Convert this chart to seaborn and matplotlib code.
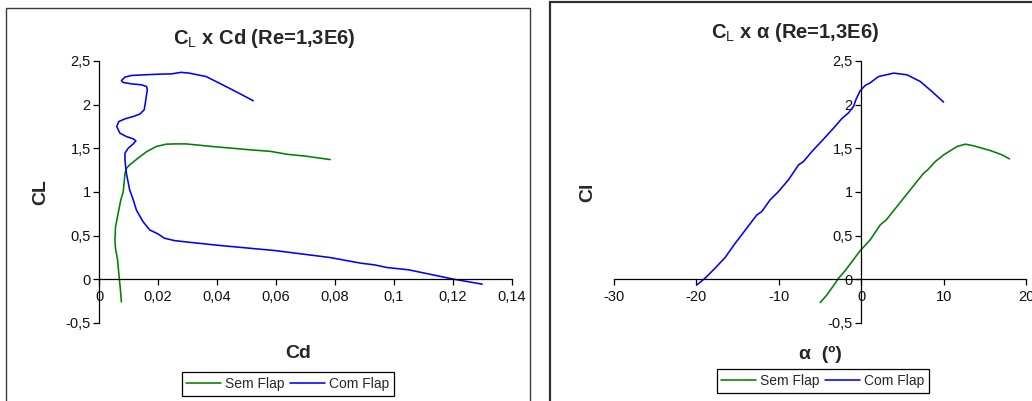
import numpy as np
import pandas as pd
import matplotlib
matplotlib.use("Agg")
import matplotlib.pyplot as plt
from matplotlib.lines import Line2D
from matplotlib.patches import Rectangle
from matplotlib.ticker import FuncFormatter, MultipleLocator
import seaborn as sns

# ---- polar data: CL vs Cd ----
sem_cd = [0.0076, 0.0072, 0.0067, 0.0063, 0.0056, 0.0054, 0.0056, 0.0063, 0.0067,
          0.0074, 0.0082, 0.0085, 0.0088, 0.0093, 0.0104, 0.0132, 0.0161, 0.0194,
          0.0228, 0.0260, 0.0295, 0.0385, 0.0520, 0.0580, 0.0640, 0.0700, 0.0784]
sem_cl_polar = [-0.26, -0.10, 0.07, 0.22, 0.35, 0.45, 0.60, 0.72, 0.79,
                0.91, 1.00, 1.10, 1.21, 1.27, 1.31, 1.386, 1.46, 1.52,
                1.547, 1.55, 1.55, 1.52, 1.48, 1.465, 1.43, 1.41, 1.37]

com_cd = [0.1299, 0.1202, 0.1050, 0.0975, 0.0934, 0.0888, 0.0783, 0.0596, 0.0410,
          0.0300, 0.0256, 0.0222, 0.0200, 0.0172, 0.0149, 0.0127, 0.0116, 0.0104,
          0.0093, 0.0090, 0.0088, 0.0088, 0.0099, 0.0116, 0.0125, 0.0116, 0.0093,
          0.0071, 0.0060, 0.0067, 0.0088, 0.0116, 0.0138, 0.0153, 0.0157, 0.0161,
          0.0164, 0.0161, 0.0144, 0.0110, 0.0082, 0.0076, 0.0088, 0.0110, 0.0155,
          0.0211, 0.0245, 0.0278, 0.0306, 0.0363, 0.0419, 0.0475, 0.0523]
com_cl_polar = [-0.057, 0.0, 0.107, 0.134, 0.164, 0.183, 0.248, 0.328, 0.386,
                0.425, 0.442, 0.469, 0.518, 0.564, 0.66, 0.79, 0.91, 1.023,
                1.21, 1.30, 1.367, 1.444, 1.50, 1.55, 1.585, 1.608, 1.634,
                1.673, 1.749, 1.806, 1.837, 1.864, 1.891, 1.94, 2.017, 2.11,
                2.17, 2.208, 2.227, 2.238, 2.254, 2.276, 2.315, 2.334, 2.342,
                2.35, 2.352, 2.37, 2.361, 2.322, 2.227, 2.13, 2.044]

# ---- lift curve: CL vs alpha ----
sem_alpha = [-4.98, -4.17, -3.16, -2.76, -1.94, -1.13, -0.12, 1.09, 2.31, 3.04,
             4.33, 5.95, 7.57, 8.06, 9.0, 10.0, 11.63, 12.64, 13.65, 15.67, 17.1, 18.0]
sem_cl = [-0.269, -0.181, -0.047, 0.01, 0.098, 0.20, 0.327, 0.45, 0.622, 0.679,
          0.832, 1.023, 1.214, 1.252, 1.348, 1.424, 1.52, 1.547, 1.528, 1.474, 1.424, 1.378]

com_alpha = [-19.96, -18.96, -17.74, -16.5, -15.3, -13.9, -12.67, -12.07, -11.06,
             -10.05, -8.83, -7.6, -7.0, -5.99, -4.57, -3.36, -2.35, -1.54, -0.94,
             -0.61, -0.12, 0.49, 1.09, 2.1, 3.94, 5.55, 7.17, 8.59, 10.0]
com_cl = [-0.067, 0.01, 0.125, 0.25, 0.41, 0.583, 0.736, 0.774, 0.908,
          1.003, 1.138, 1.31, 1.348, 1.462, 1.605, 1.73, 1.84, 1.906, 1.978,
          2.064, 2.16, 2.22, 2.25, 2.322, 2.361, 2.342, 2.265, 2.15, 2.029]

series_names = ["Sem Flap", "Com Flap"]
palette = {"Sem Flap": "#008000", "Com Flap": "#0000FF"}

polar = pd.concat([
    pd.DataFrame({"Cd": sem_cd, "CL": sem_cl_polar, "Config": "Sem Flap"}),
    pd.DataFrame({"Cd": com_cd, "CL": com_cl_polar, "Config": "Com Flap"}),
], ignore_index=True)
lift = pd.concat([
    pd.DataFrame({"alpha": sem_alpha, "CL": sem_cl, "Config": "Sem Flap"}),
    pd.DataFrame({"alpha": com_alpha, "CL": com_cl, "Config": "Com Flap"}),
], ignore_index=True)

sns.set_style("white")
plt.rcParams["font.family"] = ["Liberation Sans", "DejaVu Sans"]
plt.rcParams["mathtext.fontset"] = "custom"
plt.rcParams["mathtext.rm"] = "Liberation Sans"
plt.rcParams["mathtext.bf"] = "Liberation Sans:bold"

W, H = 1032, 401
fig = plt.figure(figsize=(W / 100, H / 100), dpi=100)


def fx(px):
    return px / W


def fy(py):
    return 1 - py / H


def comma(v, _pos=None):
    if abs(v) < 1e-12:
        return "0"
    return f"{v:g}".replace(".", ",")


def style_axes(ax, xmin, xmax, xstep):
    ax.set_xlim(xmin, xmax)
    ax.set_ylim(-0.5, 2.5)
    ax.xaxis.set_major_locator(MultipleLocator(xstep))
    ax.yaxis.set_major_locator(MultipleLocator(0.5))
    ax.xaxis.set_major_formatter(FuncFormatter(comma))
    ax.yaxis.set_major_formatter(FuncFormatter(comma))
    for side in ("top", "right"):
        ax.spines[side].set_visible(False)
    ax.spines["left"].set_position(("data", 0))
    ax.spines["bottom"].set_position(("data", 0))
    for side in ("left", "bottom"):
        ax.spines[side].set_color("black")
        ax.spines[side].set_linewidth(0.9)
    ax.tick_params(axis="both", direction="out", length=4, width=0.9,
                   color="black", labelsize=10.5, labelcolor="#111111",
                   bottom=True, left=True)
    ax.tick_params(axis="x", pad=4)
    ax.tick_params(axis="y", pad=2)
    ax.patch.set_alpha(0)
    ax.grid(False)


ybot, ytop = 322.8, 61.0

# ---- left: CL x Cd ----
ax1 = fig.add_axes([fx(99), fy(ybot), fx(512) - fx(99), fy(ytop) - fy(ybot)])
sns.lineplot(data=polar, x="Cd", y="CL", hue="Config", hue_order=series_names,
             palette=palette, sort=False, estimator=None, linewidth=1.15,
             legend=False, ax=ax1)
style_axes(ax1, 0, 0.14, 0.02)
ax1.set_xlabel("Cd", fontsize=14, fontweight="bold")
ax1.set_ylabel("CL", fontsize=14, fontweight="bold")
ax1.xaxis.set_label_coords((298 - 99) / (512 - 99), (ybot - 353) / (ybot - ytop))
ax1.yaxis.set_label_coords((41 - 99) / (512 - 99), 0.5)
ax1.xaxis.label.set_va("center")
ax1.yaxis.label.set_va("center")

# ---- right: CL x alpha ----
ax2 = fig.add_axes([fx(614), fy(ybot), fx(1026) - fx(614), fy(ytop) - fy(ybot)])
sns.lineplot(data=lift, x="alpha", y="CL", hue="Config", hue_order=series_names,
             palette=palette, sort=False, estimator=None, linewidth=1.15,
             legend=False, ax=ax2)
style_axes(ax2, -30, 20, 10)
ax2.set_xlabel("α  (º)", fontsize=14, fontweight="bold")
ax2.set_ylabel("Cl", fontsize=14, fontweight="bold")
ax2.xaxis.set_label_coords((820 - 614) / (1026 - 614), (ybot - 354) / (ybot - ytop))
ax2.yaxis.set_label_coords((588 - 614) / (1026 - 614), 0.5)
ax2.xaxis.label.set_va("center")
ax2.yaxis.label.set_va("center")

# ---- titles ----
fig.text(fx(264), fy(38), r"$\mathbf{C}_{\mathrm{L}}$ x Cd (Re=1,3E6)",
         ha="center", va="center", fontsize=14.5, fontweight="bold")
fig.text(fx(795), fy(33), r"$\mathbf{C}_{\mathrm{L}}$ x α (Re=1,3E6)",
         ha="center", va="center", fontsize=14.5, fontweight="bold")

# ---- legends ----
handles = [Line2D([], [], color=palette[n], lw=1.15) for n in series_names]
for ax, cx, cy in ((ax1, 288, 384), (ax2, 823, 381)):
    leg = ax.legend(handles, series_names, loc="center",
                    bbox_to_anchor=(fx(cx), fy(cy)), bbox_transform=fig.transFigure,
                    ncol=2, frameon=True, fancybox=False, framealpha=1,
                    edgecolor="black", fontsize=10, handlelength=2.5,
                    handletextpad=0.3, columnspacing=0.4, borderpad=0.35,
                    borderaxespad=0)
    leg.get_frame().set_linewidth(0.9)

# ---- chart area borders ----
fig.add_artist(Rectangle((fx(6), -0.02), fx(530) - fx(6), fy(8) + 0.02,
                         transform=fig.transFigure, fill=False,
                         edgecolor="#3a3a3a", linewidth=1.0))
fig.add_artist(Rectangle((fx(550), -0.02), 1.05 - fx(550), fy(2) + 0.02,
                         transform=fig.transFigure, fill=False,
                         edgecolor="#303030", linewidth=1.6))

fig.savefig("out.png", dpi=100)
